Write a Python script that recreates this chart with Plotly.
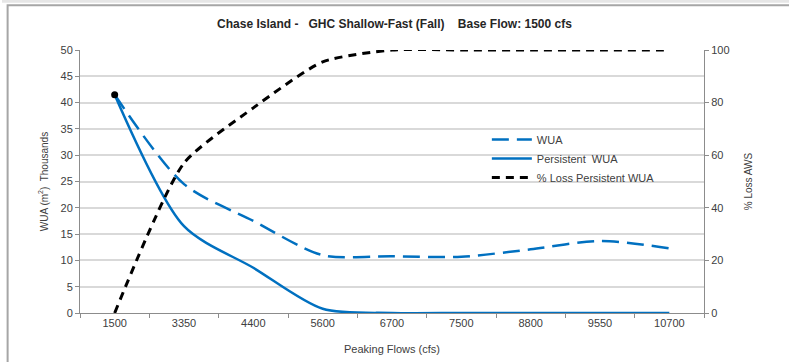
import plotly.graph_objects as go

categories = ["1500", "3350", "4400", "5600", "6700", "7500", "8800", "9550", "10700"]
wua = [41.5, 24.5, 17.5, 11.0, 10.8, 10.7, 12.1, 13.7, 12.3]
persistent_wua = [41.5, 16.5, 8.6, 0.8, 0.0, 0.0, 0.0, 0.0, 0.0]
pct_loss = [0, 57, 78, 95.5, 100, 100, 100, 100, 100]

BLUE = "#0070C0"
GRID = "#D9D9D9"
AXIS = "#8C8C8C"
TXT = "#404040"
FONT = "Liberation Sans, Arial, sans-serif"

fig = go.Figure()
fig.add_trace(go.Scatter(x=categories, y=wua, name="WUA", mode="lines",
                         line=dict(color=BLUE, width=2.5, dash="17px,8px", shape="spline", smoothing=0.8)))
fig.add_trace(go.Scatter(x=categories, y=persistent_wua, name="Persistent  WUA", mode="lines",
                         line=dict(color=BLUE, width=2.5, shape="spline", smoothing=0.8)))
fig.add_trace(go.Scatter(x=categories, y=pct_loss, name="% Loss Persistent WUA", mode="lines",
                         yaxis="y2",
                         line=dict(color="black", width=3, dash="8px,6px", shape="spline", smoothing=0.6)))
fig.add_trace(go.Scatter(x=categories[:1], y=wua[:1], mode="markers", showlegend=False,
                         marker=dict(color="black", size=7)))

fig.update_layout(
    width=789, height=362,
    margin=dict(l=80, r=85, t=50, b=49),
    paper_bgcolor="white", plot_bgcolor="white",
    font=dict(family=FONT, size=11, color=TXT),
    title=dict(text="<b>Chase Island -   GHC Shallow-Fast (Fall)    Base Flow: 1500 cfs</b>",
               x=0.5, xanchor="center", y=0.935, yanchor="middle",
               font=dict(size=12, color="#262626", family=FONT)),
    showlegend=True,
    legend=dict(x=0.652, y=0.715, xanchor="left", yanchor="top", bgcolor="rgba(0,0,0,0)",
                font=dict(size=11, color=TXT), tracegroupgap=0, itemwidth=40),
    xaxis=dict(type="category", range=[-0.5, 8.5], showgrid=False, showline=True,
               linecolor=AXIS, linewidth=1, automargin=False,
               ticks="outside", tickson="boundaries", ticklen=4, tickcolor=AXIS,
               title=dict(text="Peaking Flows (cfs)", standoff=17, font=dict(size=11)),
               tickfont=dict(size=11), zeroline=False),
    yaxis=dict(range=[0, 50], dtick=5, showgrid=True, gridcolor=GRID, gridwidth=1.5,
               showline=True, linecolor=AXIS, linewidth=1, ticks="outside", ticklen=4,
               tickcolor=AXIS, zeroline=False, tickfont=dict(size=11), automargin=False,
               title=dict(text="WUA (m<sup>2</sup>)  Thousands", standoff=10, font=dict(size=10))),
    yaxis2=dict(range=[0, 100], dtick=20, overlaying="y", side="right", showgrid=False,
                showline=True, linecolor=AXIS, linewidth=1, ticks="outside", ticklen=4,
                tickcolor=AXIS, zeroline=False, tickfont=dict(size=11), automargin=False,
                title=dict(text="% Loss AWS", standoff=16, font=dict(size=10))),
)

# outer chart frame
fig.add_shape(type="rect", xref="paper", yref="paper", x0=-0.125, x1=1.5, y0=1.18, y1=1.3,
              fillcolor="#E6E6E6", line=dict(width=0), layer="below")
fig.add_shape(type="rect", xref="paper", yref="paper", x0=-0.116, x1=1.6, y0=-0.6, y1=1.17,
              fillcolor="rgba(0,0,0,0)", line=dict(color="#A6A6A6", width=2))

fig.write_html("out.html", config={"displayModeBar": False})

with open("out.html", "r", encoding="utf-8") as f:
    html = f.read()
html = html.replace("<body>", '<body style="margin:0;padding:0;overflow:hidden">', 1)
with open("out.html", "w", encoding="utf-8") as f:
    f.write(html)
